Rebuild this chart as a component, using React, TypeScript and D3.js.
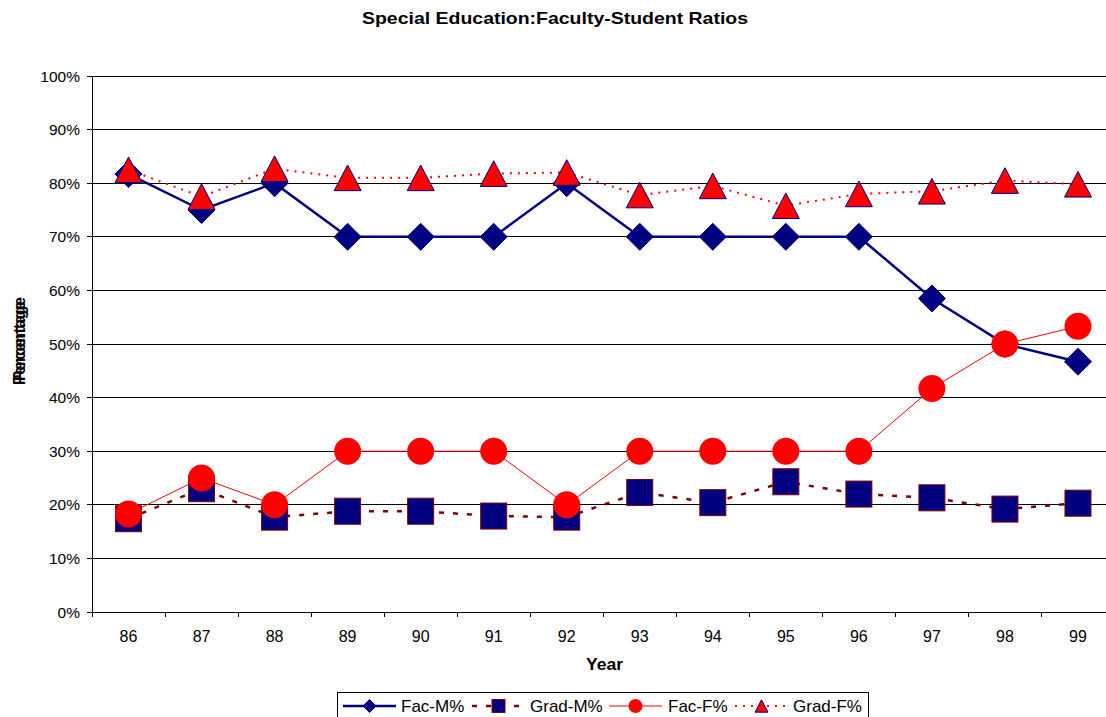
import React, { useEffect, useRef } from "react";
import * as d3 from "d3";

const years = ["86", "87", "88", "89", "90", "91", "92", "93", "94", "95", "96", "97", "98", "99"];
const facM = [81.7, 75, 80, 70, 70, 70, 80, 70, 70, 70, 70, 58.5, 50, 46.7];
const gradM = [17.4, 23, 17.7, 18.8, 18.8, 17.9, 17.7, 22.3, 20.4, 24.3, 22, 21.3, 19.2, 20.3];
const facF = [18.3, 25, 20, 30, 30, 30, 20, 30, 30, 30, 30, 41.7, 50, 53.3];
const gradF = [82.5, 77.5, 82.7, 81, 81, 81.8, 82, 77.8, 79.5, 75.8, 78, 78.5, 80.5, 79.8];
const yTicks = [0, 10, 20, 30, 40, 50, 60, 70, 80, 90, 100];

const W = 1106, H = 717;
const M = { left: 92, top: 76, right: 1114.5, bottom: 612 };
const FONT = "Arial, 'Liberation Sans', sans-serif";

function marker(g: any, type: string, x: number, y: number, s: number) {
  if (type === "diamond") {
    const r = s / 2;
    g.append("path").attr("d", `M${x},${y - r}L${x + r},${y}L${x},${y + r}L${x - r},${y}Z`)
      .attr("fill", "#000080").attr("stroke", "#000080").attr("stroke-width", 1);
  } else if (type === "square") {
    const r = s / 2;
    g.append("rect").attr("x", x - r).attr("y", y - r).attr("width", s).attr("height", s)
      .attr("fill", "#000080").attr("stroke", "#800000").attr("stroke-width", 1);
  } else if (type === "circle") {
    g.append("circle").attr("cx", x).attr("cy", y).attr("r", s / 2).attr("fill", "#ff0000");
  } else {
    const h = s * 0.95, w = s;
    g.append("path").attr("d", `M${x},${y - h / 2}L${x + w / 2},${y + h / 2}L${x - w / 2},${y + h / 2}Z`)
      .attr("fill", "#ff0000").attr("stroke", "#000080").attr("stroke-width", 1);
  }
}

export default function App() {
  const ref = useRef<SVGSVGElement>(null);
  useEffect(() => {
    const svg = d3.select(ref.current);
    svg.selectAll("*").remove();
    const x = d3.scaleBand().domain(years).range([M.left, M.right]);
    const y = d3.scaleLinear().domain([0, 100]).range([M.bottom, M.top]);
    const cx = (i: number) => (x(years[i]) as number) + x.bandwidth() / 2;

    svg.append("text").attr("x", 362).attr("y", 24)
      .attr("textLength", 386).attr("lengthAdjust", "spacingAndGlyphs")
      .attr("font-family", FONT).attr("font-weight", "bold").attr("font-size", 16.5).text("Special Education:Faculty-Student Ratios");

    // gridlines
    svg.append("g").selectAll("line").data(yTicks).join("line")
      .attr("x1", M.left).attr("x2", W).attr("y1", (d) => y(d)).attr("y2", (d) => y(d))
      .attr("stroke", "#000").attr("stroke-width", 1).attr("shape-rendering", "crispEdges");

    // axes
    svg.append("line").attr("x1", M.left).attr("x2", M.left).attr("y1", M.top).attr("y2", M.bottom)
      .attr("stroke", "#000").attr("shape-rendering", "crispEdges");
    svg.append("g").selectAll("line").data(yTicks).join("line")
      .attr("x1", M.left - 5).attr("x2", M.left).attr("y1", (d) => y(d)).attr("y2", (d) => y(d))
      .attr("stroke", "#000").attr("shape-rendering", "crispEdges");
    svg.append("g").selectAll("text").data(yTicks).join("text")
      .attr("x", 80).attr("y", (d) => y(d) + 5.5).attr("text-anchor", "end")
      .attr("font-family", FONT).attr("font-size", 15.5).text((d) => d + "%");

    const bounds = years.map((yr) => x(yr) as number).concat([M.right]);
    svg.append("g").selectAll("line").data(bounds).join("line")
      .attr("x1", (d) => d).attr("x2", (d) => d).attr("y1", M.bottom).attr("y2", M.bottom + 5)
      .attr("stroke", "#000").attr("shape-rendering", "crispEdges");
    svg.append("g").selectAll("text").data(years).join("text")
      .attr("x", (_d, i) => cx(i)).attr("y", 642).attr("text-anchor", "middle")
      .attr("font-family", FONT).attr("font-size", 16).text((d) => d);

    svg.append("text").attr("x", 604.5).attr("y", 670).attr("text-anchor", "middle")
      .attr("textLength", 37).attr("lengthAdjust", "spacingAndGlyphs")
      .attr("font-family", FONT).attr("font-weight", "bold").attr("font-size", 16).text("Year");

    for (const dy of [0, -4]) {
      svg.append("text").attr("transform", `translate(${25},${385 + dy}) rotate(-90)`)
        .attr("textLength", 84).attr("lengthAdjust", "spacingAndGlyphs")
        .attr("font-family", FONT).attr("font-weight", "bold")
        .attr("font-size", 16).text("Percentage");
    }

    const series = [
      { name: "Fac-M%", data: facM, color: "#000080", width: 2.5, dash: null, m: "diamond", s: 27 },
      { name: "Grad-M%", data: gradM, color: "#800000", width: 2.5, dash: "5,9", m: "square", s: 26 },
      { name: "Fac-F%", data: facF, color: "#ff0000", width: 1, dash: null, m: "circle", s: 27 },
      { name: "Grad-F%", data: gradF, color: "#ff0000", width: 2, dash: "2,6", m: "triangle", s: 27 },
    ];
    const line = d3.line<number>().x((_d, i) => cx(i)).y((d) => y(d));
    for (const s of series) {
      const g = svg.append("g");
      g.append("path").attr("d", line(s.data)).attr("fill", "none").attr("stroke", s.color)
        .attr("stroke-width", s.width).attr("stroke-dasharray", s.dash);
      s.data.forEach((v, i) => marker(g, s.m, cx(i), y(v), s.s));
    }

    // legend
    const lg = svg.append("g");
    lg.append("rect").attr("x", 337.5).attr("y", 692.5).attr("width", 531).attr("height", 30)
      .attr("fill", "#fff").attr("stroke", "#000").attr("shape-rendering", "crispEdges");
    const lx = [343, 472, 609, 735];
    const tx = [401, 530, 668, 793];
    const ly = 706;
    series.forEach((s, i) => {
      lg.append("line").attr("x1", lx[i]).attr("x2", lx[i] + 53).attr("y1", ly).attr("y2", ly)
        .attr("stroke", s.color).attr("stroke-width", s.width).attr("stroke-dasharray", s.dash);
      marker(lg, s.m, lx[i] + 26.5, ly, s.m === "circle" ? 14 : 13);
      lg.append("text").attr("x", tx[i]).attr("y", ly + 6).attr("font-family", FONT)
        .attr("font-size", 17).text(s.name);
    });
  }, []);
  return (
    <svg ref={ref} width={W} height={H} style={{ position: "absolute", left: 0, top: 0, background: "#fff" }} />
  );
}
